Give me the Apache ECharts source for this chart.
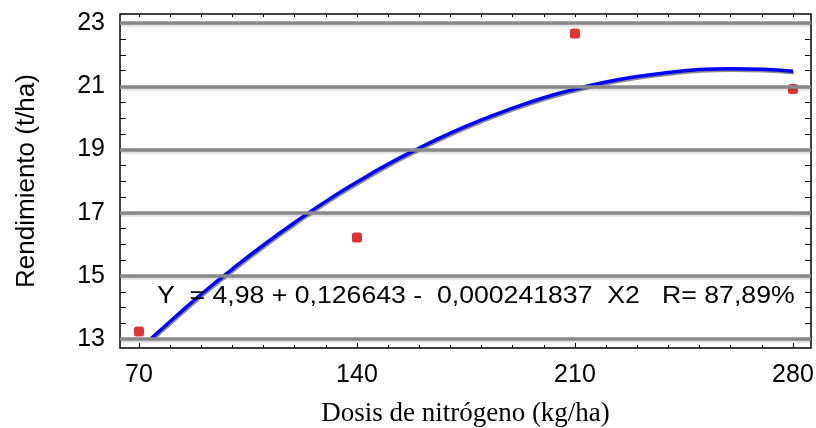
<!DOCTYPE html>
<html>
<head>
<meta charset="utf-8">
<script src="https://cdn.jsdelivr.net/npm/echarts@6/dist/echarts.min.js"></script>
<style>html,body{margin:0;padding:0;background:#fff}#c{width:816px;height:428px}</style>
</head>
<body>
<div id="c"></div>
<script>
// Observed data points (dose kg/ha, yield t/ha)
const obsX = [70, 140, 210, 280];
const obsY = [13.24, 16.22, 22.67, 20.92];
// Fitted curve points
const fitX = [74, 80, 90, 100, 110, 120, 130, 140, 150, 160, 170, 180, 190, 200, 210, 220, 230, 240, 250, 260, 270, 280];
const fitY = [13.03, 13.56, 14.42, 15.22, 15.98, 16.69, 17.36, 17.97, 18.54, 19.05, 19.52, 19.94, 20.31, 20.64, 20.91, 21.14, 21.31, 21.44, 21.53, 21.56, 21.54, 21.48];
// Ticks
const xMajor = [70, 140, 210, 280];
const xMinor = [70, 80, 90, 100, 110, 120, 130, 140, 150, 160, 170, 180, 190, 200, 210, 220, 230, 240, 250, 260, 270, 280];
const yMajor = [13, 15, 17, 19, 21, 23];
const yMinor = [13, 13.5, 14, 14.5, 15, 15.5, 16, 16.5, 17, 17.5, 18, 18.5, 19, 19.5, 20, 20.5, 21, 21.5, 22, 22.5, 23];
const xName = 'Dosis de nitrógeno (kg/ha)';
const yName = 'Rendimiento (t/ha)';
const equation = 'Y  = 4,98 + 0,126643 -  0,000241837  X2   R= 87,89%';

const X_MIN = 63.9, X_MAX = 285.8, Y_MIN = 12.72, Y_MAX = 23.29;

const chart = echarts.init(document.getElementById('c'), null, {renderer: 'canvas'});

function xAx(opts) {
  return Object.assign({
    type: 'value', min: X_MIN, max: X_MAX, gridIndex: 0,
    axisLine: {show: false, onZero: false},
    splitLine: {show: false},
    axisLabel: {show: false},
  }, opts);
}
function yAx(opts) {
  return Object.assign({
    type: 'value', min: Y_MIN, max: Y_MAX, gridIndex: 0,
    axisLine: {show: false, onZero: false},
    splitLine: {show: false},
    axisLabel: {show: false},
  }, opts);
}

const option = {
  animation: false,
  backgroundColor: '#fff',
  grid: {left: 120, right: 5, top: 14, bottom: 80, show: true, borderColor: '#000', borderWidth: 1.5,
    backgroundColor: 'transparent', outerBoundsMode: 'none', containLabel: false},
  xAxis: [
    xAx({position: 'bottom',
      axisTick: {show: true, inside: true, length: 5, customValues: xMajor, lineStyle: {color: '#000', width: 1}},
      axisLabel: {show: true, customValues: xMajor, color: '#000', fontFamily: 'Liberation Sans, Arial', fontSize: 25, margin: 15},
      name: xName, nameLocation: 'middle', nameGap: 52,
      nameTextStyle: {fontFamily: 'Liberation Serif, Times New Roman', fontSize: 27, color: '#000'}
    }),
    xAx({position: 'bottom',
      axisTick: {show: true, inside: true, length: 3, customValues: xMinor, lineStyle: {color: '#000', width: 1}}
    }),
    xAx({position: 'top',
      axisTick: {show: true, inside: true, length: 3, customValues: xMinor, lineStyle: {color: '#000', width: 1}}
    })
  ],
  yAxis: [
    yAx({position: 'left',
      axisTick: {show: true, inside: true, length: 12, customValues: yMajor, lineStyle: {color: '#000', width: 1.2}},
      axisLabel: {show: true, customValues: yMajor, color: '#000', fontFamily: 'Liberation Sans, Arial', fontSize: 25, margin: 15},
      name: yName, nameLocation: 'middle', nameGap: 80, nameRotate: 90,
      nameTextStyle: {fontFamily: 'Liberation Sans, Arial', fontSize: 26, color: '#000'}
    }),
    yAx({position: 'left',
      axisTick: {show: true, inside: true, length: 6, customValues: yMinor, lineStyle: {color: '#000', width: 1}}
    }),
    yAx({position: 'right',
      axisTick: {show: true, inside: true, length: 12, customValues: yMajor, lineStyle: {color: '#000', width: 1.2}}
    }),
    yAx({position: 'right',
      axisTick: {show: true, inside: true, length: 6, customValues: yMinor, lineStyle: {color: '#000', width: 1}}
    })
  ],
  series: [
    {
      type: 'line', xAxisIndex: 0, yAxisIndex: 0, data: [], z: 1, silent: true,
      markLine: {
        silent: true, symbol: 'none', animation: false,
        label: {show: false},
        lineStyle: {color: '#888888', width: 3.5, type: 'solid', shadowColor: 'rgba(0,0,0,0.12)', shadowOffsetY: 2},
        data: yMajor.map(v => ({yAxis: v}))
      }
    },
    {
      type: 'line', xAxisIndex: 0, yAxisIndex: 0, z: 3, silent: true,
      showSymbol: false, smooth: true,
      lineStyle: {color: '#0000ff', width: 3.5, shadowColor: 'rgba(0,0,0,0.45)', shadowOffsetY: 1.5, shadowOffsetX: 1},
      data: fitX.map((x, i) => [x, fitY[i]])
    },
    {
      type: 'scatter', xAxisIndex: 0, yAxisIndex: 0, z: 4, silent: true,
      symbol: 'roundRect', symbolSize: 10,
      itemStyle: {color: '#dd0000'},
      data: obsX.map((x, i) => [x, obsY[i]])
    }
  ],
  graphic: [
    {type: 'text', x: 157, y: 284, z: 5, silent: true, scaleX: 1.11,
      style: {text: equation, font: '24px "Liberation Sans", Arial', fill: '#000'}}
  ]
};
chart.setOption(option);
</script>
</body>
</html>
